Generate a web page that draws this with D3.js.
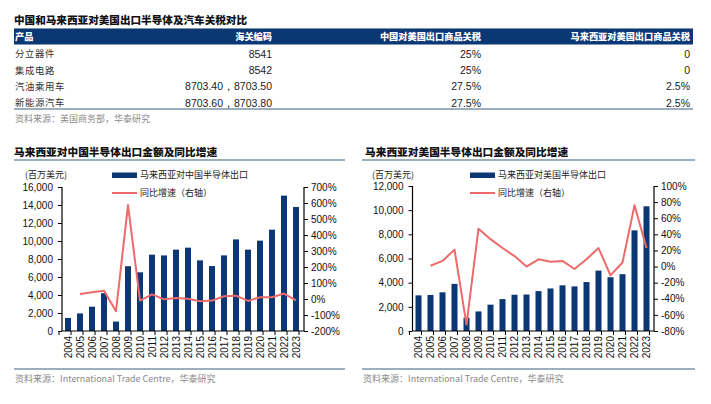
<!DOCTYPE html>
<html><head><meta charset="utf-8">
<script src="https://cdn.jsdelivr.net/npm/d3@7"></script>
<style>
body{margin:0;background:#fff;}
svg{display:block;}
</style></head>
<body>
<svg id="c" width="711" height="404"></svg>
<script>
// ---------- DATA ----------
const tableTitle = "中国和马来西亚对美国出口半导体及汽车关税对比";
const tableHeaders = ["产品", "海关编码", "中国对美国出口商品关税", "马来西亚对美国出口商品关税"];
const tableProducts = ["分立器件", "集成电路", "汽油乘用车", "新能源汽车"];
const tableCodes = ["8541", "8542", "8703.40，8703.50", "8703.60，8703.80"];
const tableChina = ["25%", "25%", "27.5%", "27.5%"];
const tableMalaysia = ["0", "0", "2.5%", "2.5%"];
const tableSource = "资料来源：美国商务部，华泰研究";

const years = ["2004","2005","2006","2007","2008","2009","2010","2011","2012","2013","2014","2015","2016","2017","2018","2019","2020","2021","2022","2023"];

const chinaTitle = "马来西亚对中国半导体出口金额及同比增速";
const chinaBarName = "马来西亚对中国半导体出口";
const chinaExports = [1450,1950,2700,4200,1050,7200,6520,8480,8400,9040,9260,7850,7220,8400,10180,9040,10040,11260,15040,13780];
const chinaYoY = [null,31,42,52,-76,587,-10,29,-2,6,2,-14,-10,17,21,-12,11,11,34,-8];
const chinaLeftTicks = [0,2000,4000,6000,8000,10000,12000,14000,16000];
const chinaRightTicks = [-200,-100,0,100,200,300,400,500,600,700];

const usTitle = "马来西亚对美国半导体出口金额及同比增速";
const usBarName = "马来西亚对美国半导体出口";
const usExports = [2950,2980,3200,3900,1100,1620,2180,2640,3000,3020,3300,3520,3780,3690,4050,5000,4450,4700,8330,10320];
const usYoY = [null,1,7,21,-72,47,34,23,13,0,9,6,7,-3,9,23,-11,5,76,23];
const usLeftTicks = [0,2000,4000,6000,8000,10000,12000];
const usRightTicks = [-80,-60,-40,-20,0,20,40,60,80,100];

const unitLabel = "(百万美元)";
const lineName = "同比增速（右轴）";
const chartSource = "资料来源：International Trade Centre，华泰研究";

// ---------- STYLE ----------
const NAVY = "#0b3775";
const RED = "#ee6a6a";
const SLATE = "#7d93a6";
const CJK = "'Noto Sans CJK SC','Noto Sans',sans-serif";
const LAT = "'Liberation Sans',Arial,sans-serif";

const svg = d3.select("#c");

// ---------- TABLE ----------
svg.append("text").attr("x",14).attr("y",20).attr("dy","0.35em")
  .attr("font-family",CJK).attr("font-weight",900).attr("font-size",10.6)
  .attr("fill","#111").text(tableTitle);

svg.append("line").attr("x1",14).attr("x2",693).attr("y1",28.5).attr("y2",28.5)
  .attr("stroke",SLATE).attr("stroke-width",1.2);
svg.append("rect").attr("x",14).attr("y",29).attr("width",679).attr("height",15.5).attr("fill",NAVY);

const colRight = [null,272,481,690];
svg.append("text").attr("x",15).attr("y",36.8).attr("dy","0.35em")
  .attr("font-family",CJK).attr("font-weight",900).attr("font-size",9.2)
  .attr("fill","#fff").text(tableHeaders[0]);
[1,2,3].forEach(i=>{
  svg.append("text").attr("x",colRight[i]).attr("y",36.8).attr("dy","0.35em")
    .attr("text-anchor","end").attr("font-family",CJK).attr("font-weight",900).attr("font-size",9.2)
    .attr("fill","#fff").text(tableHeaders[i]);
});
const rowY = d3.scalePoint().domain(d3.range(tableProducts.length)).range([54,103]);
tableProducts.forEach((p,i)=>{
  const y = rowY(i);
  svg.append("text").attr("x",15).attr("y",y).attr("dy","0.35em")
    .attr("font-family",CJK).attr("font-size",9.4).attr("letter-spacing",0.6).attr("fill","#333").text(p);
  [[tableCodes,1],[tableChina,2],[tableMalaysia,3]].forEach(([arr,c])=>{
    svg.append("text").attr("x",colRight[c]).attr("y",y).attr("dy","0.35em")
      .attr("text-anchor","end").attr("font-family",LAT).attr("font-size",10.5).attr("fill","#222").text(arr[i]);
  });
});
svg.append("line").attr("x1",14).attr("x2",693).attr("y1",109).attr("y2",109)
  .attr("stroke",SLATE).attr("stroke-width",1.5);
svg.append("text").attr("x",15).attr("y",118.5).attr("dy","0.35em")
  .attr("font-family",CJK).attr("font-size",9).attr("fill","#8a8a8a").text(tableSource);

// ---------- CHARTS ----------
function drawChart(o){
  const g = svg.append("g");
  // title
  g.append("text").attr("x",o.titleX).attr("y",152).attr("dy","0.35em")
    .attr("font-family",CJK).attr("font-weight",900).attr("font-size",10.7).attr("fill","#111").text(o.title);
  g.append("line").attr("x1",o.lineX1).attr("x2",o.lineX2).attr("y1",160).attr("y2",160)
    .attr("stroke",SLATE).attr("stroke-width",1.5);
  g.append("line").attr("x1",o.lineX1).attr("x2",o.lineX2).attr("y1",369).attr("y2",369)
    .attr("stroke",SLATE).attr("stroke-width",1.5);
  g.append("text").attr("x",o.lineX1+1).attr("y",378.5).attr("dy","0.35em")
    .attr("font-family",CJK).attr("font-size",9).attr("fill","#8a8a8a").text(chartSource);
  // unit
  g.append("text").attr("x",o.unitX).attr("y",175).attr("dy","0.35em")
    .attr("font-family",CJK).attr("font-size",9).attr("fill","#222").text(unitLabel);

  const x = d3.scaleBand().domain(years).range([o.x0,o.x1]).paddingInner(0.5).paddingOuter(0.25);
  const yL = d3.scaleLinear().domain(o.leftDomain).range([331,o.yTop]);
  const yR = d3.scaleLinear().domain(o.rightDomain).range([331,o.yTop]);

  // bars
  g.append("g").selectAll("rect").data(o.bars).join("rect")
    .attr("x",(d,i)=>x(years[i])).attr("width",x.bandwidth())
    .attr("y",d=>yL(d)).attr("height",d=>331-yL(d)).attr("fill",NAVY);

  // line
  const line = d3.line().defined(d=>d!=null)
    .x((d,i)=>x(years[i])+x.bandwidth()/2).y(d=>yR(d));
  g.append("path").datum(o.yoy).attr("d",line).attr("fill","none")
    .attr("stroke",RED).attr("stroke-width",2).attr("stroke-linejoin","round");

  // left axis
  const la = g.append("g").attr("transform",`translate(${o.x0},0)`)
    .call(d3.axisLeft(yL).tickValues(o.leftTicks).tickFormat(d3.format(",")).tickSize(4).tickPadding(5));
  // right axis
  const ra = g.append("g").attr("transform",`translate(${o.axR},0)`)
    .call(d3.axisRight(yR).tickValues(o.rightTicks).tickFormat(d=>d+"%").tickSize(4).tickPadding(3));
  [la,ra].forEach(a=>{
    a.select(".domain").attr("stroke","#000").attr("stroke-width",1.2);
    a.selectAll(".tick line").attr("stroke","#000");
    a.selectAll("text").attr("font-family",LAT).attr("font-size",10).attr("fill","#111");
  });
  ra.select(".domain").attr("d",`M0,${o.yTop}V331`);
  la.select(".domain").attr("d",`M0,${o.yTop}V331`);
  // bottom axis
  const bx = g.append("g").attr("transform","translate(0,331)");
  bx.append("line").attr("x1",o.x0).attr("x2",o.axR).attr("stroke","#000").attr("stroke-width",1.2);
  const step = x.step();
  const edges = d3.range(years.length+1).map(i=>x(years[0]) - x.bandwidth()*0.5 - (step - x.bandwidth())/2 + i*step);
  bx.selectAll(".tk").data(edges).join("line").attr("class","tk")
    .attr("x1",d=>d).attr("x2",d=>d).attr("y1",0).attr("y2",4).attr("stroke","#000");
  bx.selectAll(".yl").data(years).join("text").attr("class","yl")
    .attr("transform",d=>`translate(${x(d)+x.bandwidth()/2},5) rotate(-90)`)
    .attr("text-anchor","end").attr("dy","0.35em")
    .attr("font-family",LAT).attr("font-size",10).attr("fill","#111").text(d=>d);

  // legend
  const lg = g.append("g");
  lg.append("rect").attr("x",o.legX).attr("y",172.5).attr("width",25).attr("height",5.5).attr("fill",NAVY);
  lg.append("text").attr("x",o.legX+28).attr("y",175).attr("dy","0.35em")
    .attr("font-family",CJK).attr("font-size",9).attr("fill","#222").text(o.barName);
  lg.append("line").attr("x1",o.legX).attr("x2",o.legX+25).attr("y1",193).attr("y2",193)
    .attr("stroke",RED).attr("stroke-width",2);
  lg.append("text").attr("x",o.legX+28).attr("y",193).attr("dy","0.35em")
    .attr("font-family",CJK).attr("font-size",9).attr("fill","#222").text(lineName);
}

drawChart({
  title: chinaTitle, titleX:14, lineX1:14, lineX2:345, unitX:25,
  x0:62, x1:302, axR:304, yTop:187,
  leftDomain:[0,16000], rightDomain:[-200,700],
  leftTicks: chinaLeftTicks, rightTicks: chinaRightTicks,
  bars: chinaExports, yoy: chinaYoY, barName: chinaBarName, legX:112
});
drawChart({
  title: usTitle, titleX:365, lineX1:362, lineX2:695, unitX:372,
  x0:412.5, x1:652.5, axR:654, yTop:186,
  leftDomain:[0,12000], rightDomain:[-80,100],
  leftTicks: usLeftTicks, rightTicks: usRightTicks,
  bars: usExports, yoy: usYoY, barName: usBarName, legX:470
});
</script>
</body></html>
